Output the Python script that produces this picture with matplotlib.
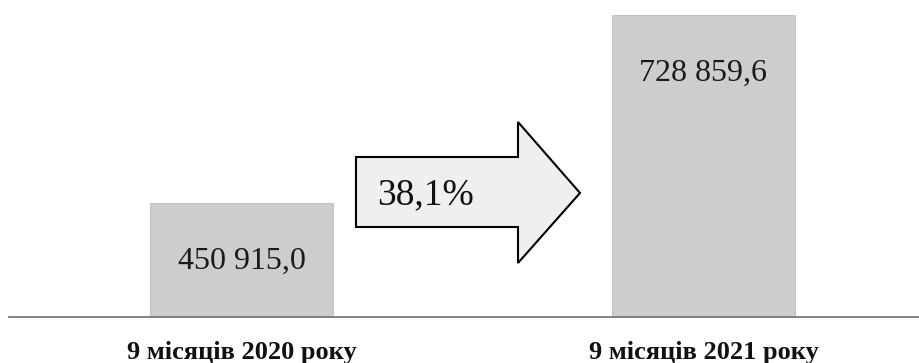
import matplotlib
matplotlib.use("Agg")
import matplotlib.pyplot as plt
from matplotlib.patches import Polygon

categories = ["9 місяців 2020 року", "9 місяців 2021 року"]
values = [450915.0, 728859.6]
growth_label = "38,1%"

def fmt(v):
    s = f"{v:,.1f}"
    return s.replace(",", " ").replace(".", ",")

W, H = 920, 363
fig = plt.figure(figsize=(W / 100, H / 100), dpi=100)
base_px = 317
ax = fig.add_axes([0, (H - base_px) / H, 1, base_px / H])

ymin = 282000
ymax = ymin + base_px * (728859.6 - ymin) / 302
ax.set_ylim(ymin, ymax)
x = [0, 1]
ax.set_xlim(-241.5 / 462, (W - 241.5) / 462)

ax.bar(x, [v - ymin for v in values], bottom=ymin, width=183 / 462,
       color="#cdcdcd", edgecolor="#bdbdbd", linewidth=0.6, zorder=2)
ax.axhline(ymin, xmin=0.01, color="#6e6e6e", lw=1.2, zorder=3, clip_on=False)

for xi, v in zip(x, values):
    ax.annotate(fmt(v), xy=(xi, v), xytext=(0, -42), textcoords="offset points",
                ha="center", va="center", fontsize=23,
                family="Liberation Serif", color="#1a1a1a", zorder=4)

for s in ax.spines.values():
    s.set_visible(False)
ax.set_yticks([])
ax.set_xticks(x)
ax.set_xticklabels(categories, fontsize=19, fontweight="bold",
                   family="Liberation Serif", color="#111111")
ax.tick_params(axis="x", length=0, pad=17)

# arrow shape (figure pixel coordinates)
pts = [(356, 157), (518, 157), (518, 122), (580, 193), (518, 263),
       (518, 227), (356, 227)]
pts = [(px / W, (H - py) / H) for px, py in pts]
fig.patches.append(Polygon(pts, closed=True, transform=fig.transFigure,
                           facecolor="#efefef", edgecolor="black", lw=1.5,
                           zorder=5))
fig.text(377 / W, (H - 195) / H, growth_label, ha="left", va="center",
         fontsize=27, family="Liberation Serif", color="#111111", zorder=6)

fig.savefig("out.png", dpi=100)
